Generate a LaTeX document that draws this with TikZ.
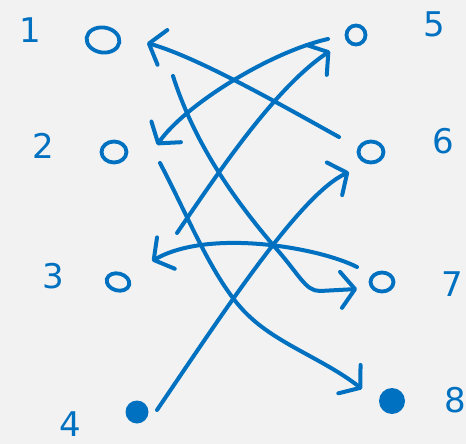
\documentclass[tikz,border=0pt]{standalone}
\usepackage{fontspec}
\setmainfont{DejaVu Sans}
\usetikzlibrary{arrows.meta,shapes.geometric}
\definecolor{ink}{RGB}{0,112,192}
\definecolor{bg}{RGB}{242,242,242}
\tikzset{
  ring/.style={draw=ink,line width=3.8pt,ellipse,inner sep=0pt},
  dot/.style={fill=ink,circle,inner sep=0pt},
  lbl/.style={text=ink,font=\fontsize{34}{34}\selectfont,inner sep=0pt},
  conn/.style={draw=ink,line width=4pt,line cap=round,line join=round,
    -{Straight Barb[length=14pt,width=36pt,line cap=round,line join=round]}},
}
\begin{document}
\begin{tikzpicture}[x=1pt,y=-1pt]
\fill[bg] (0,0) rectangle (466,444);
\useasboundingbox (0,0) rectangle (466,444);
% nodes
\node[ring,minimum width=33pt,minimum height=25pt,rotate=-8] (n1) at (103,40) {};
\node[ring,minimum width=25pt,minimum height=21pt] (n2) at (114,152) {};
\node[ring,minimum width=23pt,minimum height=17pt,rotate=-15] (n3) at (118,282) {};
\node[dot,minimum size=23pt] (n4) at (137,412) {};
\node[ring,minimum width=19pt,minimum height=19pt] (n5) at (356,35) {};
\node[ring,minimum width=25pt,minimum height=21pt] (n6) at (371,152) {};
\node[ring,minimum width=23pt,minimum height=19pt] (n7) at (382,282) {};
\node[dot,minimum size=26pt] (n8) at (392,401) {};
% labels
\node[lbl] (l1) at (30,30) {1};
\node[lbl] (l2) at (43,146) {2};
\node[lbl] (l3) at (53,276) {3};
\node[lbl] (l4) at (70,424) {4};
\node[lbl] (l5) at (434,24) {5};
\node[lbl] (l6) at (443,141) {6};
\node[lbl] (l7) at (452,284) {7};
\node[lbl] (l8) at (455,400) {8};
% connector end points
\coordinate (s61) at (339,137); \coordinate (e61) at (147,43);
\coordinate (s52) at (328,39);  \coordinate (e52) at (157,145);
\coordinate (s35) at (177,233); \coordinate (e35) at (330,51);
\coordinate (s28) at (160,163); \coordinate (e28) at (362,389);
\coordinate (s17) at (173,76);  \coordinate (e17) at (357,289);
\coordinate (s46) at (157,410); \coordinate (e46) at (349,172);
\coordinate (s73) at (357,267); \coordinate (e73) at (152,261);
% connectors
\draw[conn] (s61) .. controls (290,110) and (200,58) .. (e61);
\draw[conn] (s52) .. controls (270,52) and (185,105) .. (e52);
\draw[conn] (s35) .. controls (220,170) and (275,88) .. (e35);
\draw[conn] (s28) .. controls (190,220) and (215,285) .. (250,317)
  .. controls (280,345) and (325,360) .. (e28);
\draw[conn] (s17) .. controls (195,145) and (235,200) .. (273,245)
  .. controls (300,275) and (305,291) .. (320,291) -- (e17);
\draw[conn] (s46) .. controls (225,310) and (300,195) .. (e46);
\draw[conn] (s73) .. controls (320,248) and (210,228) .. (e73);
\end{tikzpicture}
\end{document}
